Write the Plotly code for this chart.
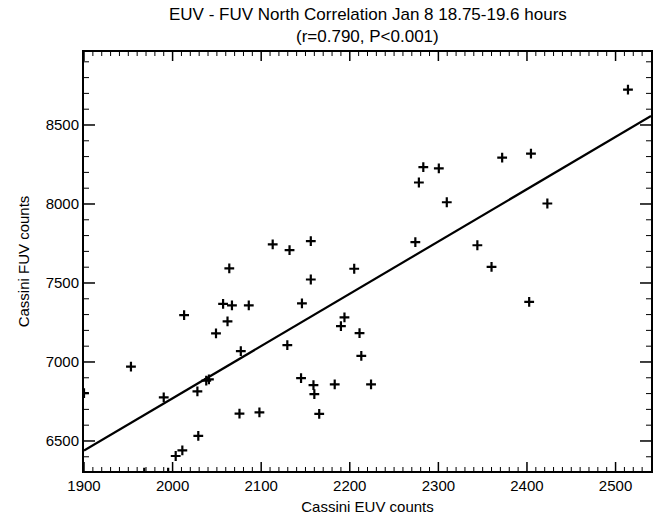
import plotly.graph_objects as go

# EUV vs FUV counts, north, Jan 8 18.75-19.6 h
euv_counts = [1900, 1953, 1968, 1990, 1995, 2003.5, 2011, 2013, 2028, 2029,
              2038, 2041, 2049, 2057, 2062, 2064, 2067, 2075.5, 2077, 2086,
              2098, 2113, 2129.5, 2132, 2145, 2146, 2156, 2156, 2159, 2160,
              2165.5, 2183, 2190, 2194, 2205, 2211, 2213, 2224, 2274, 2278,
              2283, 2300.5, 2309.5, 2344, 2360, 2372, 2402.5, 2404.5, 2423, 2514]
fuv_counts = [6803, 6970, 6300, 6776, 6300, 6405, 6441, 7297, 6814, 6532,
              6882, 6890, 7181, 7368, 7257, 7592, 7358, 6673, 7069, 7358,
              6681, 7745, 7107, 7708, 6898, 7371, 7765, 7522, 6854, 6797,
              6671, 6858, 7227, 7282, 7590, 7183, 7039, 6858, 7758, 8136,
              8233, 8226, 8011, 7739, 7602, 8294, 7381, 8319, 8003, 8724]

# linear fit endpoints
fit_x = [1900, 2540]
fit_y = [6439, 8557]

# axis ranges and tick values
x_range = [1900, 2540]
y_range = [6310, 8962]
x_major = [1900, 2000, 2100, 2200, 2300, 2400, 2500]
y_major = [6500, 7000, 7500, 8000, 8500]
x_minor = [v for v in range(1910, 2540, 10) if v % 100]
y_minor = [v for v in range(6400, 8962, 100) if v % 500]

FONT = "Liberation Sans, Arial, Helvetica, sans-serif"

fig = go.Figure()
fig.add_trace(go.Scatter(
    x=fit_x, y=fit_y, mode="lines",
    line=dict(color="black", width=2.2), showlegend=False, hoverinfo="skip"))
fig.add_trace(go.Scatter(
    x=euv_counts, y=fuv_counts, mode="markers",
    marker=dict(symbol="cross-thin", size=7, color="black",
                line=dict(color="black", width=2.2)),
    showlegend=False))

# inward-pointing tick marks on all four sides of the box
shapes = []
for vals, length, width in ((x_major, 9, 1.5), (x_minor, 4, 1)):
    for v in vals:
        for anchor, sign in ((0, 1), (1, -1)):
            shapes.append(dict(type="line", xref="x", yref="y domain",
                               x0=v, x1=v, ysizemode="pixel", yanchor=anchor,
                               y0=0, y1=sign * length, layer="above",
                               line=dict(color="black", width=width)))
for vals, length, width in ((y_major, 11, 1.5), (y_minor, 5, 1)):
    for v in vals:
        for anchor, sign in ((0, 1), (1, -1)):
            shapes.append(dict(type="line", xref="x domain", yref="y",
                               y0=v, y1=v, xsizemode="pixel", xanchor=anchor,
                               x0=0, x1=sign * length, layer="above",
                               line=dict(color="black", width=width)))

fig.update_layout(
    width=658, height=518,
    margin=dict(l=84, r=5, t=52, b=46),
    paper_bgcolor="white", plot_bgcolor="white",
    shapes=shapes,
    xaxis=dict(
        range=x_range, tickmode="array", tickvals=x_major,
        showgrid=False, zeroline=False, showline=True, linecolor="black", linewidth=2,
        mirror=True, ticks="",
        tickfont=dict(family=FONT, size=15, color="black"),
        title=dict(text="Cassini EUV counts",
                   font=dict(family=FONT, size=15, color="black"), standoff=8),
    ),
    yaxis=dict(
        range=y_range, tickmode="array", tickvals=y_major,
        showgrid=False, zeroline=False, showline=True, linecolor="black", linewidth=2,
        mirror=True, ticks="",
        tickfont=dict(family=FONT, size=15, color="black"),
        title=dict(text="Cassini FUV counts",
                   font=dict(family=FONT, size=15, color="black"), standoff=12),
    ),
)

fig.add_annotation(text="EUV - FUV North Correlation Jan 8 18.75-19.6 hours",
                   xref="paper", yref="paper", x=0.5, y=1, yanchor="middle", yshift=38,
                   showarrow=False, font=dict(family=FONT, size=17, color="black"))
fig.add_annotation(text="(r=0.790, P&lt;0.001)",
                   xref="paper", yref="paper", x=0.5, y=1, yanchor="middle", yshift=16,
                   showarrow=False, font=dict(family=FONT, size=17, color="black"))

fig.write_html("out.html")
